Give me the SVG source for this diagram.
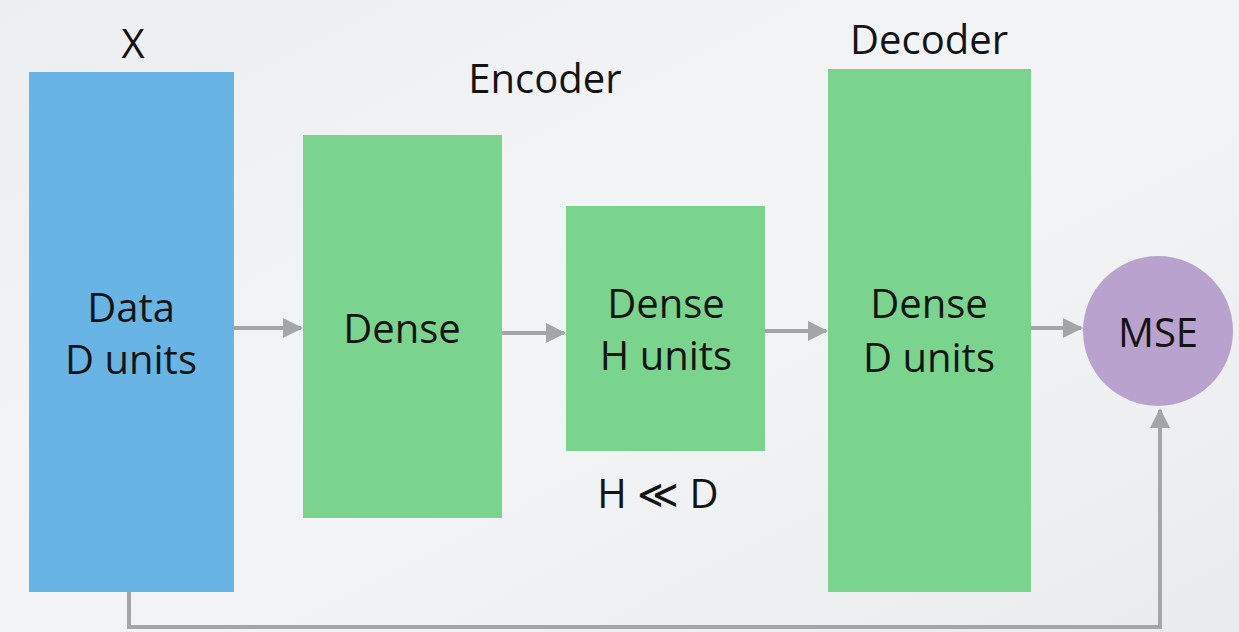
<svg xmlns="http://www.w3.org/2000/svg" width="1239" height="632" viewBox="0 0 1239 632">
<defs>
<linearGradient id="bg" x1="0" y1="0" x2="1" y2="1">
<stop offset="0" stop-color="#eceff0"/>
<stop offset="0.5" stop-color="#f3f4f5"/>
<stop offset="1" stop-color="#e9eced"/>
</linearGradient>
<marker id="ah" viewBox="0 0 10 10" refX="9" refY="5" markerWidth="5" markerHeight="5" orient="auto" markerUnits="strokeWidth">
<path d="M0,0 L10,5 L0,10 z" fill="#a3a5a6"/>
</marker>
<style>
.t{font-family:"Open Sans","Liberation Sans",sans-serif;font-size:40px;fill:#141414;text-anchor:middle}
.g{fill:#7bd48d}
.c{stroke:#a3a5a6;stroke-width:4;fill:none;marker-end:url(#ah)}
</style>
</defs>
<rect width="1239" height="632" fill="url(#bg)"/>
<text class="t" x="133" y="58">X</text>
<text class="t" x="545" y="93">Encoder</text>
<text class="t" x="929" y="54">Decoder</text>
<text class="t" x="658" y="508">H ≪ D</text>
<g id="connectors">
<path class="c" d="M234,328 H301"/>
<path class="c" d="M502,333 H564"/>
<path class="c" d="M765,331 H826"/>
<path class="c" d="M1031,328 H1081"/>
<path class="c" d="M129,592 V627 H1160 V410"/>
</g>
<g id="data">
<rect x="29" y="72" width="205" height="520" fill="#68b4e4"/>
<text class="t" x="131" y="322">Data</text>
<text class="t" x="131" y="374">D units</text>
</g>
<g id="dense1">
<rect class="g" x="303" y="135" width="199" height="383"/>
<text class="t" x="402" y="343">Dense</text>
</g>
<g id="dense2">
<rect class="g" x="566" y="206" width="199" height="245"/>
<text class="t" x="666" y="318">Dense</text>
<text class="t" x="666" y="370">H units</text>
</g>
<g id="decoder">
<rect class="g" x="828" y="69" width="203" height="523"/>
<text class="t" x="929" y="318">Dense</text>
<text class="t" x="929" y="372">D units</text>
</g>
<g id="mse">
<circle cx="1158" cy="331" r="75" fill="#b9a2cd"/>
<text class="t" x="1158" y="347">MSE</text>
</g>
</svg>
